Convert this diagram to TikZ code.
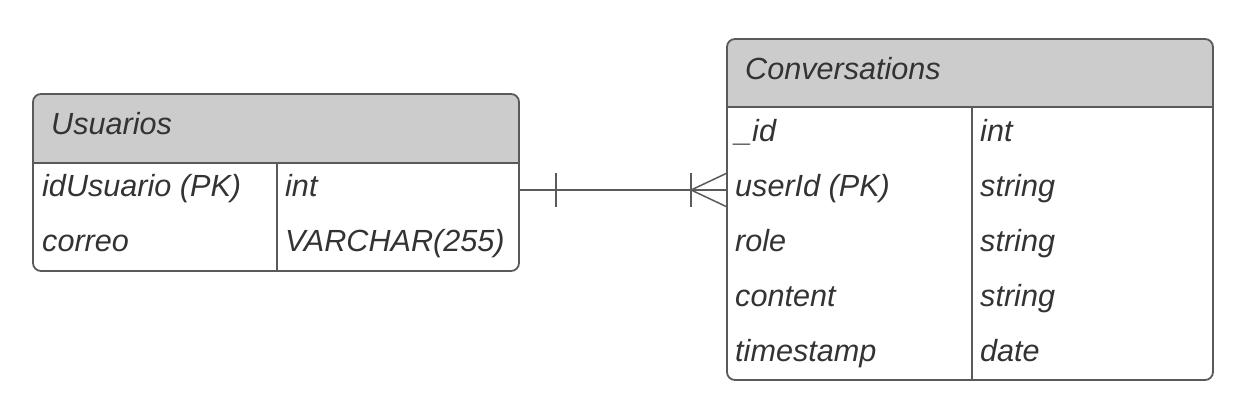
\documentclass[tikz,border=0pt]{standalone}
\usepackage{fontspec}
\setmainfont{Liberation Sans}
\definecolor{linegray}{HTML}{5A5A5A}
\definecolor{hdrgray}{HTML}{CCCCCC}
\definecolor{txtgray}{HTML}{333333}
\begin{document}
\begin{tikzpicture}[x=1pt,y=-1pt,
  tbl/.style={draw=linegray, line width=1.8pt, rounded corners=8pt, inner sep=0pt},
  sep/.style={draw=linegray, line width=1.5pt},
  lbl/.style={anchor=base west, inner sep=0pt, text=txtgray, font=\fontsize{30.6}{36}\selectfont\itshape},
  conn/.style={draw=linegray, line width=1.5pt}
]
\useasboundingbox (0,0) rectangle (1252,406);
% Usuarios
\begin{scope}
\clip[rounded corners=8pt] (33,94) rectangle (519,271);
\fill[hdrgray] (33,94) rectangle (519,163);
\end{scope}
\node[tbl, minimum width=486pt, minimum height=177pt] (usu) at (276,182.5) {};
\draw[sep] (33,163) -- (519,163);
\draw[sep] (277,163) -- (277,271);
\node[lbl] (usuT) at (51,135) {Usuarios};
\node[lbl] (u1) at (42,196.5) {idUsuario (PK)};
\node[lbl] (u1t) at (285,196.5) {int};
\node[lbl] (u2) at (42,251.5) {correo};
\node[lbl] (u2t) at (285,251.5) {VARCHAR(255)};
% Conversations
\begin{scope}
\clip[rounded corners=8pt] (727,39) rectangle (1213,380);
\fill[hdrgray] (727,39) rectangle (1213,107);
\end{scope}
\node[tbl, minimum width=486pt, minimum height=341pt] (conv) at (970,209.5) {};
\draw[sep] (727,107) -- (1213,107);
\draw[sep] (972,107) -- (972,380);
\node[lbl] (convT) at (745,80) {Conversations};
\node[lbl] (c1) at (735,141.5) {\_id};
\node[lbl] (c1t) at (980,141.5) {int};
\node[lbl] (c2) at (735,196.5) {userId (PK)};
\node[lbl] (c2t) at (980,196.5) {string};
\node[lbl] (c3) at (735,251.5) {role};
\node[lbl] (c3t) at (980,251.5) {string};
\node[lbl] (c4) at (735,306.5) {content};
\node[lbl] (c4t) at (980,306.5) {string};
\node[lbl] (c5) at (735,361.5) {timestamp};
\node[lbl] (c5t) at (980,361.5) {date};
% connector
\coordinate (ly) at (0,190);
\coordinate (a) at (usu.east |- ly);
\coordinate (b) at (conv.west |- ly);
\draw[conn] (a) -- (b);
\draw[conn] ([xshift=36pt]a) ++(0,-16.5) -- ++(0,33);
\draw[conn] ([xshift=-35pt]b) ++(0,-16.5) -- ++(0,33);
\draw[conn] (b) ++(0,-16.5) -- ([xshift=-35pt]b) -- ++(35,16.5);
\end{tikzpicture}
\end{document}
